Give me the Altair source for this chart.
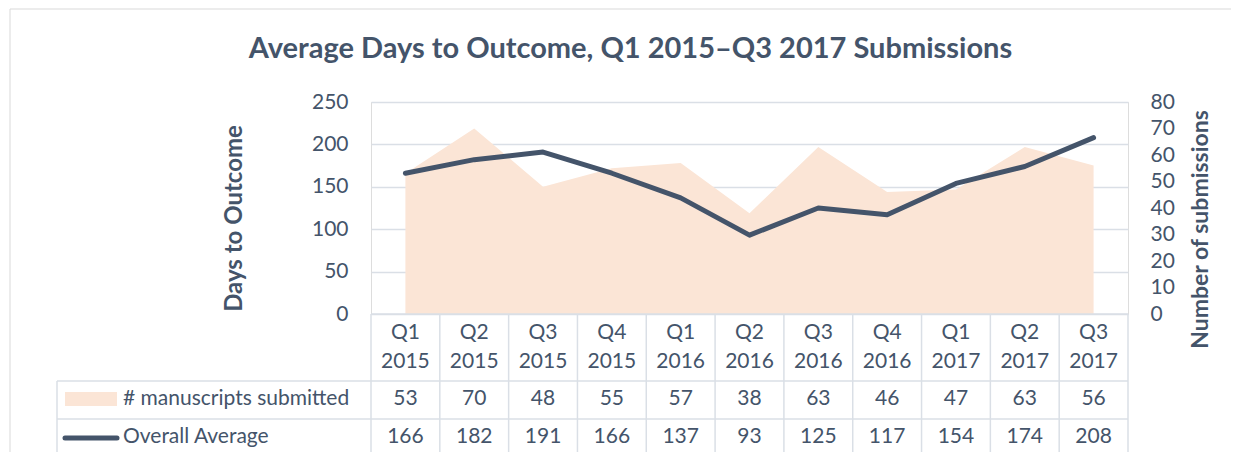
import altair as alt
import pandas as pd

# ---- data ----
quarters = ["Q1", "Q2", "Q3", "Q4", "Q1", "Q2", "Q3", "Q4", "Q1", "Q2", "Q3"]
years = ["2015", "2015", "2015", "2015", "2016", "2016", "2016", "2016", "2017", "2017", "2017"]
submitted = [53, 70, 48, 55, 57, 38, 63, 46, 47, 63, 56]
avg_days = [166, 182, 191, 166, 137, 93, 125, 117, 154, 174, 208]
series_names = ["# manuscripts submitted", "Overall Average"]
left_ticks = [0, 50, 100, 150, 200, 250]
right_ticks = [0, 10, 20, 30, 40, 50, 60, 70, 80]
title_text = "Average Days to Outcome, Q1 2015\u2013Q3 2017 Submissions"

cats = [f"{q} {y}" for q, y in zip(quarters, years)]
df = pd.DataFrame({"cat": cats, "quarter": quarters, "year": years,
                   "submitted": submitted, "avg": avg_days})
legend_df = pd.DataFrame({"name": series_names})
one = pd.DataFrame({"k": [0]})

# ---- style ----
W, H = 757, 212
TEXT = "#44546A"
FILL = "#FBE5D6"
GRID = "#DADFE6"
FONT = "Lato"
FS = 21

xscale = alt.Scale(type="band", domain=cats, paddingInner=0, paddingOuter=0)


def X(bp=0.5):
    return alt.X("cat:N", scale=xscale, axis=None, bandPosition=bp)


area = alt.Chart(df).mark_area(color=FILL, opacity=1).encode(
    x=X(),
    y=alt.Y("submitted:Q", scale=alt.Scale(domain=[0, 80], nice=False),
            axis=alt.Axis(orient="right", values=right_ticks, grid=False, domain=False,
                          ticks=False, labelPadding=22, labelFontSize=FS, labelColor=TEXT,
                          labelFont=FONT, title="Number of submissions", titleAngle=270,
                          titleX=61, titleY=127, titleBaseline="top", titleAlign="center",
                          titleFontSize=23, titleColor=TEXT, titleFont=FONT,
                          titleFontWeight="bold")),
)

line = alt.Chart(df).mark_line(color=TEXT, strokeWidth=5, strokeCap="round",
                               strokeJoin="round").encode(
    x=X(),
    y=alt.Y("avg:Q", scale=alt.Scale(domain=[0, 250], nice=False),
            axis=alt.Axis(orient="left", values=left_ticks, grid=True, gridColor=GRID,
                          gridWidth=1.5, domain=False, ticks=False, labelPadding=23,
                          labelFontSize=FS, labelColor=TEXT, labelFont=FONT,
                          title="Days to Outcome", titleAngle=270, titleX=-125, titleY=116,
                          titleBaseline="bottom", titleAlign="center", titleFontSize=24,
                          titleColor=TEXT, titleFont=FONT, titleFontWeight="bold")),
)


def hrule(x0, x1, y, color=GRID, sw=1.5):
    return alt.Chart(one).mark_rule(color=color, strokeWidth=sw).encode(
        x=alt.value(x0), x2=alt.value(x1), y=alt.value(y))


def vrule(x, y0, y1, color=GRID, sw=1.5):
    return alt.Chart(one).mark_rule(color=color, strokeWidth=sw).encode(
        x=alt.value(x), y=alt.value(y0), y2=alt.value(y1))


# table grid
vlines = alt.Chart(df).mark_rule(color=GRID, strokeWidth=1.5).encode(
    x=X(0), y=alt.value(H), y2=alt.value(H + 143))
vlast = alt.Chart(df.tail(1)).mark_rule(color=GRID, strokeWidth=1.5).encode(
    x=X(1), y=alt.value(H), y2=alt.value(H + 143))
table_lines = [
    hrule(0, W, H),
    hrule(-314, W, 279),
    hrule(-314, W, 317),
    hrule(-314, W, 355),
    vrule(-314, 279, 355),
    vlines, vlast,
]


def row_text(field, y):
    return alt.Chart(df).mark_text(font=FONT, fontSize=FS, color=TEXT).encode(
        x=X(), y=alt.value(y), text=field)


texts = [
    row_text("quarter:N", 231),
    row_text("year:N", 260),
    row_text("submitted:Q", 297),
    row_text("avg:Q", 335),
]

sw_area = alt.Chart(legend_df.iloc[[0]]).mark_rect(color=FILL).encode(
    x=alt.value(-306), x2=alt.value(-254), y=alt.value(290), y2=alt.value(304))
sw_line = alt.Chart(legend_df.iloc[[1]]).mark_rule(color=TEXT, strokeWidth=5,
                                                   strokeCap="round").encode(
    x=alt.value(-306), x2=alt.value(-254), y=alt.value(336))
leg_t1 = alt.Chart(legend_df.iloc[[0]]).mark_text(font=FONT, fontSize=FS, color=TEXT,
                                                  align="left").encode(
    x=alt.value(-248), y=alt.value(297), text="name:N")
leg_t2 = alt.Chart(legend_df.iloc[[1]]).mark_text(font=FONT, fontSize=FS, color=TEXT,
                                                  align="left").encode(
    x=alt.value(-248), y=alt.value(335), text="name:N")

# outer chart frame (top and left edges only; the rest lies beyond the picture)
frame = [hrule(-361, W + 103, -93, "#D9D9D9", 1), vrule(-361, -93, H + 140, "#D9D9D9", 1)]

chart = alt.layer(
    *frame, area, *table_lines, line, *texts, sw_area, sw_line, leg_t1, leg_t2
).resolve_scale(y="independent").properties(
    width=W, height=H,
    title=alt.TitleParams(title_text, font=FONT, fontSize=29, fontWeight="bold",
                          color=TEXT, anchor="middle", frame="group", dx=-119,
                          offset=0, dy=55),
    padding={"left": 363, "top": 94, "right": 103, "bottom": 138},
    autosize=alt.AutoSizeParams(type="none"),
).configure_view(stroke=None).configure(font=FONT)

chart.save("out.html", embed_options={"renderer": "svg", "actions": False})
